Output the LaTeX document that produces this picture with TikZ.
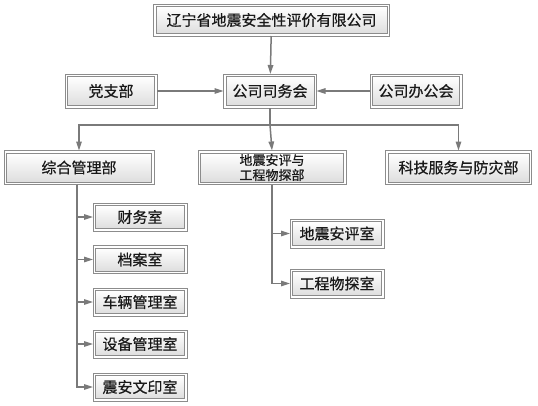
\documentclass[tikz,border=0pt]{standalone}
\usepackage{fontspec}
\newfontfamily\cjk{Noto Sans CJK SC}[FakeBold=0.6]
\usetikzlibrary{arrows.meta}
\definecolor{edge}{HTML}{7A7A7A}
\definecolor{frame}{HTML}{8C8C8C}
\tikzset{
  bx/.style={draw=frame, line width=0.9pt, top color=white, bottom color=black!13,
             inner sep=2pt, outer sep=2.5pt, align=center,
             font=\cjk\fontsize{15}{17}\selectfont, text=black!90},
  sm/.style={bx, font=\cjk\fontsize{13}{15}\selectfont},
  rim/.style={draw=frame, line width=0.9pt},
  fl/.style={-{Triangle[length=9pt, width=5.5pt]}, edge, line width=1.5pt},
  ln/.style={edge, line width=1.5pt},
}

\begin{document}
\begin{tikzpicture}[x=1pt, y=-1pt]
    \useasboundingbox (0,0) rectangle (538,405);
    \node[bx, minimum width=231pt, minimum height=27pt] (co) at (271.5,20) {辽宁省地震安全性评价有限公司};
    \node[bx, minimum width=87pt, minimum height=29pt] (dz) at (111,91) {党支部};
    \node[bx, minimum width=88pt, minimum height=29pt] (sw) at (270,91) {公司司务会};
    \node[bx, minimum width=87pt, minimum height=29pt] (bg) at (416,91) {公司办公会};
    \node[bx, minimum width=145pt, minimum height=29pt] (zh) at (79,167.5) {综合管理部};
    \node[sm, minimum width=143pt, minimum height=29pt, inner sep=1pt] (dk) at (272,167.5) {地震安评与\\工程物探部};
    \node[bx, minimum width=141pt, minimum height=29pt] (kj) at (458.5,167.5) {科技服务与防灾部};
    \node[bx, minimum width=89pt, minimum height=23pt] (cw) at (140,217) {财务室};
    \node[bx, minimum width=89pt, minimum height=23pt] (da) at (140,259.5) {档案室};
    \node[bx, minimum width=89pt, minimum height=23pt] (cl) at (140,302) {车辆管理室};
    \node[bx, minimum width=89pt, minimum height=23pt] (sb) at (140,344) {设备管理室};
    \node[bx, minimum width=89pt, minimum height=23pt] (wy) at (140,387) {震安文印室};
    \node[bx, minimum width=89pt, minimum height=24pt] (ap) at (337,233.5) {地震安评室};
    \node[bx, minimum width=89pt, minimum height=24pt] (wt) at (337,283.5) {工程物探室};
    \foreach \n in {co,dz,sw,bg,zh,dk,kj,cw,da,cl,sb,wy,ap,wt}
      \draw[rim] (\n.north west) rectangle (\n.south east);
    \coordinate (br) at (0,125);
    \draw[fl] (co) -- (sw);
    \draw[fl] (dz) -- (sw);
    \draw[fl] (bg) -- (sw);
    \draw[ln] (sw.south) -- (sw.south |- br);
    \draw[fl] (sw.south |- br) -| (zh.north);
    \draw[fl] (sw.south |- br) -- (dk.north);
    \draw[fl] (sw.south |- br) -| (kj.north);
    \draw[fl] (zh.south -| 77,0) |- (cw.west);
    \draw[fl] (zh.south -| 77,0) |- (da.west);
    \draw[fl] (zh.south -| 77,0) |- (cl.west);
    \draw[fl] (zh.south -| 77,0) |- (sb.west);
    \draw[fl] (zh.south -| 77,0) |- (wy.west);
    \draw[fl] (dk.south) |- (ap.west);
    \draw[fl] (dk.south) |- (wt.west);
\end{tikzpicture}
\end{document}
